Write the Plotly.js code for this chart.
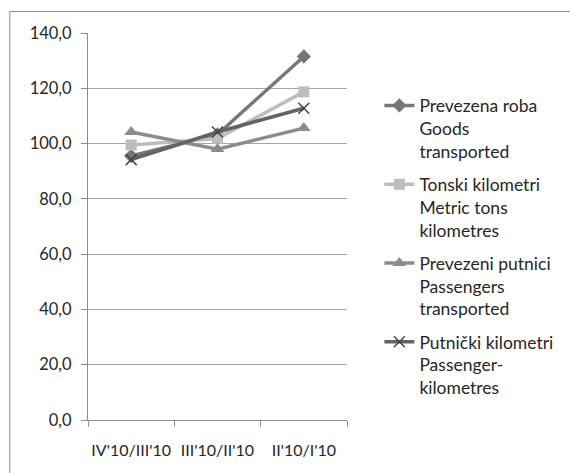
<!DOCTYPE html>
<html><head><meta charset="utf-8">
<script src="https://cdn.plot.ly/plotly-3.0.1.min.js"></script>
<style>html,body{margin:0;padding:0;background:#fff}#c{width:570px;height:473px}</style>
</head><body><div id="c"></div>
<script>
const categories = ["IV'10/III'10", "III'10/II'10", "II'10/I'10"];
const seriesNames = [
  "Prevezena roba<br>Goods<br>transported",
  "Tonski kilometri<br>Metric tons<br>kilometres",
  "Prevezeni putnici<br>Passengers<br>transported",
  "Putnički kilometri<br>Passenger-<br>kilometres"
];
const goodsTransported = [95.5, 103.3, 131.5];
const metricTonsKm = [99.5, 101.8, 118.7];
const passengersTransported = [104.2, 98.0, 105.6];
const passengerKm = [94.2, 104.2, 112.8];
const yTicks = [0, 20, 40, 60, 80, 100, 120, 140];
const categoryBoundaries = [-0.5, 0.5, 1.5, 2.5];

const FONT = "Lato, 'Open Sans', sans-serif";
const traces = [
  {y: goodsTransported, name: seriesNames[0], line: {color: '#777777', width: 3.5},
   marker: {symbol: 'diamond', size: 11, color: '#777777'}},
  {y: metricTonsKm, name: seriesNames[1], line: {color: '#bdbdbd', width: 3.5},
   marker: {symbol: 'square', size: 11, color: '#bdbdbd'}},
  {y: passengersTransported, name: seriesNames[2], line: {color: '#8c8c8c', width: 3.5},
   marker: {symbol: 'triangle-up', size: 12, color: '#8c8c8c'}},
  {y: passengerKm, name: seriesNames[3], line: {color: '#636363', width: 3.5},
   marker: {symbol: 'x-thin-open', size: 11, color: '#444444', line: {color: '#444444', width: 1.5}}}
].map((t, i) => Object.assign({x: categories, type: 'scatter', mode: 'lines+markers',
   legendgroup: 'g' + i, cliponaxis: false}, t));

// empty helper trace so the boundary-tick axis gets drawn (no visible marks)
traces.push({x: categoryBoundaries, y: categoryBoundaries.map(() => null), xaxis: 'x2', yaxis: 'y',
  type: 'scatter', mode: 'markers', marker: {opacity: 0}, showlegend: false, hoverinfo: 'skip'});

const layout = {
  width: 570, height: 473,
  margin: {l: 88, r: 217, t: 33, b: 53},
  paper_bgcolor: '#ffffff', plot_bgcolor: '#ffffff',
  font: {family: FONT, size: 16, color: '#262626'},
  separators: ',.',
  showlegend: true,
  legend: {x: 1.125, y: 0.859, xanchor: 'left', yanchor: 'top', valign: 'top',
           traceorder: 'grouped', tracegroupgap: 7.5, font: {family: FONT, size: 17.5, color: '#262626'},
           bgcolor: 'rgba(0,0,0,0)'},
  xaxis: {type: 'category', range: [-0.5, 2.5], showline: true, linecolor: '#8c8c8c', linewidth: 1,
          ticks: '', ticklabelstandoff: 16, tickangle: 0,
          showgrid: false, zeroline: false, tickfont: {family: FONT, size: 16, color: '#262626'}},
  xaxis2: {overlaying: 'x', anchor: 'y', side: 'bottom', range: [-0.5, 2.5], tickmode: 'array',
           tickvals: categoryBoundaries, ticks: 'outside', ticklen: 6, tickcolor: '#8c8c8c',
           showticklabels: false, showline: false, showgrid: false, zeroline: false},
  yaxis: {range: [0, 140], tickvals: yTicks, tickformat: '.1f', showline: true, linecolor: '#8c8c8c',
          linewidth: 1, ticks: 'outside', ticklen: 6, tickcolor: '#8c8c8c', ticklabelstandoff: 6,
          showgrid: true, gridcolor: '#a6a6a6', gridwidth: 1, zeroline: false,
          tickfont: {family: FONT, size: 16.5, color: '#262626'}},
  shapes: [{type: 'rect', xref: 'paper', yref: 'paper', x0: -0.302, x1: 1.95, y0: -0.2, y1: 1.0555,
            line: {color: '#8c8c8c', width: 1}, layer: 'below'}]
};
Plotly.newPlot('c', traces, layout, {staticPlot: true, displayModeBar: false});
</script></body></html>
